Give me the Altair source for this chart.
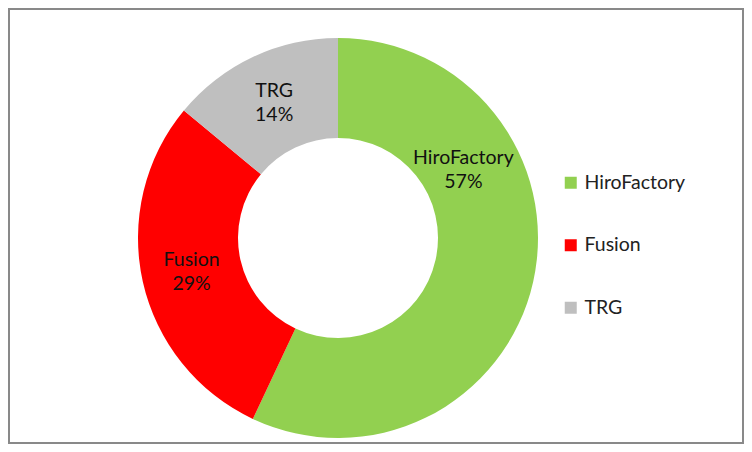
import altair as alt
import pandas as pd

categories = ["HiroFactory", "Fusion", "TRG"]
percents = [57, 29, 14]
colors = ["#92D050", "#FF0000", "#BFBFBF"]

df = pd.DataFrame({
    "name": categories,
    "pct": percents,
    "order": list(range(len(categories))),
    "label": [f"{c}\n{p}%" for c, p in zip(categories, percents)],
})

FONT = "Lato"
FS = 19.5
CX, CY = 330, 230

base = alt.Chart(df).encode(
    theta=alt.Theta("pct:Q", stack=True),
    order=alt.Order("order:Q"),
    x=alt.value(CX),
    y=alt.value(CY),
)

arcs = base.mark_arc(radius=200, radius2=100, stroke=None).encode(
    color=alt.Color(
        "name:N",
        scale=alt.Scale(domain=categories, range=colors),
        sort=categories,
        legend=alt.Legend(
            title=None,
            orient="none",
            legendX=553,
            legendY=165,
            symbolType="square",
            symbolSize=144,
            symbolStrokeWidth=0,
            labelFont=FONT,
            labelFontSize=FS,
            labelColor="#222222",
            labelOffset=4,
            rowPadding=41.5,
        ),
    )
)

text_style = dict(
    radius=150, font=FONT, fontSize=FS, color="#111111",
    lineBreak="\n", lineHeight=24, baseline="middle", align="center",
)

labels_other = base.mark_text(dy=-11, **text_style).encode(
    text=alt.condition(alt.datum.name != "HiroFactory", "label:N", alt.value(""))
)

labels_hiro = base.mark_text(dx=-21, dy=-113, **text_style).encode(
    text=alt.condition(alt.datum.name == "HiroFactory", "label:N", alt.value(""))
)

chart = alt.layer(arcs, labels_other, labels_hiro).properties(
    width=736, height=436,
    autosize=alt.AutoSizeParams(type="none"),
    padding=0,
).configure_view(
    stroke="#898989", strokeWidth=4, fill="white"
)

chart.save("out.html", embed_options={"renderer": "svg", "actions": False})
